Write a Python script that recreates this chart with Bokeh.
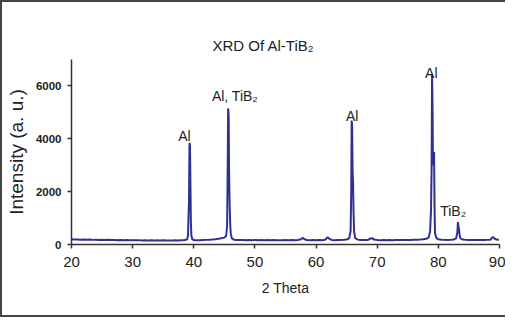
from bokeh.plotting import figure
from bokeh.models import Range1d, FixedTicker
from bokeh.core.properties import value
from bokeh.embed import file_html
from bokeh.resources import INLINE

two_theta = [20.0, 20.5, 21, 21.5, 22, 22.5, 23, 23.5, 24, 24.5, 25, 25.5, 26, 26.5, 27, 27.5, 28, 28.5, 29, 29.5,
             30, 30.5, 31, 31.5, 32, 32.5, 33, 33.5, 34, 34.5, 35, 35.5, 36, 36.5, 37, 37.5, 38, 38.5, 38.9,
             39.05, 39.15, 39.22, 39.3, 39.38, 39.45, 39.52, 39.6, 39.75, 40, 40.5, 41, 41.5, 42, 42.5, 43, 43.5,
             44, 44.5, 45, 45.3, 45.45, 45.55, 45.62, 45.7, 45.78, 45.86, 45.95, 46.05, 46.25, 46.6, 47, 47.5,
             48, 48.5, 49, 49.5, 50, 50.5, 51, 51.5, 52, 52.5, 53, 53.5, 54, 54.5, 55, 55.5, 56, 56.5, 57, 57.5,
             57.8, 58.1, 58.5, 59, 59.5, 60, 60.5, 61, 61.5, 61.9, 62.2, 62.6, 63, 63.5, 64, 64.5, 65, 65.4,
             65.65, 65.75, 65.82, 65.9, 65.97, 66.05, 66.12, 66.22, 66.4, 66.8, 67, 67.5, 68, 68.5, 68.9, 69.2,
             69.5, 70, 70.5, 71, 71.5, 72, 72.5, 73, 73.5, 74, 74.5, 75, 75.5, 76, 76.5, 77, 77.5, 78, 78.4,
             78.65, 78.8, 78.9, 78.97, 79.05, 79.12, 79.2, 79.3, 79.38, 79.45, 79.65, 80, 80.5, 81, 81.5, 82,
             82.5, 82.9, 83.1, 83.2, 83.28, 83.35, 83.45, 83.6, 84, 84.5, 85, 85.5, 86, 86.5, 87, 87.5, 88,
             88.5, 88.9, 89.2, 89.5, 89.9]
intensity = [195, 185, 190, 180, 188, 178, 185, 175, 182, 172, 178, 170, 176, 168, 172, 165, 170, 162, 168, 160,
             165, 158, 164, 156, 162, 155, 160, 154, 158, 152, 157, 150, 156, 150, 158, 155, 165, 170, 190,
             320, 1150, 1600, 3850, 3700, 2300, 900, 350, 200, 170, 160, 165, 170, 175, 182, 190, 200,
             215, 235, 260, 330, 700, 3000, 5150, 4900, 2600, 1600, 800, 400, 220, 180, 172, 168,
             172, 165, 170, 165, 168, 162, 168, 163, 168, 162, 166, 160, 165, 160, 166, 162, 168, 163, 170, 200,
             250, 200, 170, 165, 168, 163, 168, 165, 180, 280, 210, 170, 165, 170, 172, 178, 190, 230,
             500, 2000, 4690, 4500, 2800, 2350, 1300, 500, 240, 185, 175, 170, 168, 172, 230, 240,
             185, 170, 165, 168, 163, 168, 165, 170, 166, 172, 168, 175, 172, 178, 182, 188, 195, 215, 260,
             500, 1300, 3000, 6420, 5200, 3000, 3400, 3500, 1400, 450, 250, 195, 180, 175, 172, 175,
             185, 230, 450, 850, 700, 620, 400, 230, 185, 175, 172, 170, 172, 168, 172, 170, 175,
             180, 290, 220, 185, 180]

x_ticks = [20, 30, 40, 50, 60, 70, 80, 90]
y_ticks = [0, 2000, 4000, 6000]

peak_labels = ["Al", "Al, TiB\u2082", "Al", "Al", "TiB\u2082"]
label_x = [38.46, 42.96, 65.9, 78.84, 80.3]
label_y = [4090, 5610, 4860, 6490, 1270]
label_align = ["center", "left", "center", "center", "left"]

title_text = "XRD Of Al-TiB\u2082"
x_title = "2 Theta"
y_title = "Intensity (a. u.)"

FONT = "Liberation Sans"
AXIS_COLOR = "#333333"
LINE_COLOR = "#2E3192"

p = figure(width=505, height=317, output_backend="svg", toolbar_location=None,
           x_range=Range1d(20, 90), y_range=Range1d(0, 7000),
           min_border_left=67, min_border_right=8, min_border_top=57, min_border_bottom=75)
p.styles = {"border-left": "2px solid #444", "border-top": "2px solid #444",
            "border-bottom": "2px solid #444", "box-sizing": "border-box"}
p.outline_line_color = None
p.grid.visible = False
p.background_fill_color = "white"
p.border_fill_color = "white"

p.title.text = title_text
p.title.align = "left"
p.title.offset = 141
p.title.standoff = 12
p.title.text_font = FONT
p.title.text_font_size = "15px"
p.title.text_font_style = "normal"
p.title.text_color = "#222222"

p.line(two_theta, intensity, line_color=LINE_COLOR, line_width=2)

for t, x, y, a in zip(peak_labels, label_x, label_y, label_align):
    p.text(x=[x], y=[y], text=[t], text_align=a, text_baseline="alphabetic",
           text_font=value(FONT), text_font_size="14px", text_color="#222222")

for ax in (p.xaxis[0], p.yaxis[0]):
    ax.axis_line_color = AXIS_COLOR
    ax.axis_line_width = 1.5
    ax.major_tick_line_color = AXIS_COLOR
    ax.major_tick_line_width = 1.5
    ax.major_tick_out = 4
    ax.major_tick_in = 0
    ax.minor_tick_line_color = None
    ax.major_label_text_font = FONT
    ax.axis_label_text_font = FONT
    ax.axis_label_text_font_style = "normal"
    ax.major_label_text_color = "#222222"
    ax.axis_label_text_color = "#222222"

p.xaxis.ticker = FixedTicker(ticks=x_ticks)
p.yaxis.ticker = FixedTicker(ticks=y_ticks)
p.xaxis.major_label_text_font_size = "15px"
p.xaxis.major_label_standoff = 8
p.xaxis.axis_label = x_title
p.xaxis.axis_label_text_font_size = "14px"
p.xaxis.axis_label_standoff = 10

p.yaxis.major_label_text_font_size = "11.5px"
p.yaxis.major_label_text_font_style = "bold"
p.yaxis.major_label_standoff = 6
p.yaxis.axis_label = y_title
p.yaxis.axis_label_text_font_size = "19px"
p.yaxis.axis_label_standoff = 6

open("out.html", "w").write(file_html(p, INLINE))
